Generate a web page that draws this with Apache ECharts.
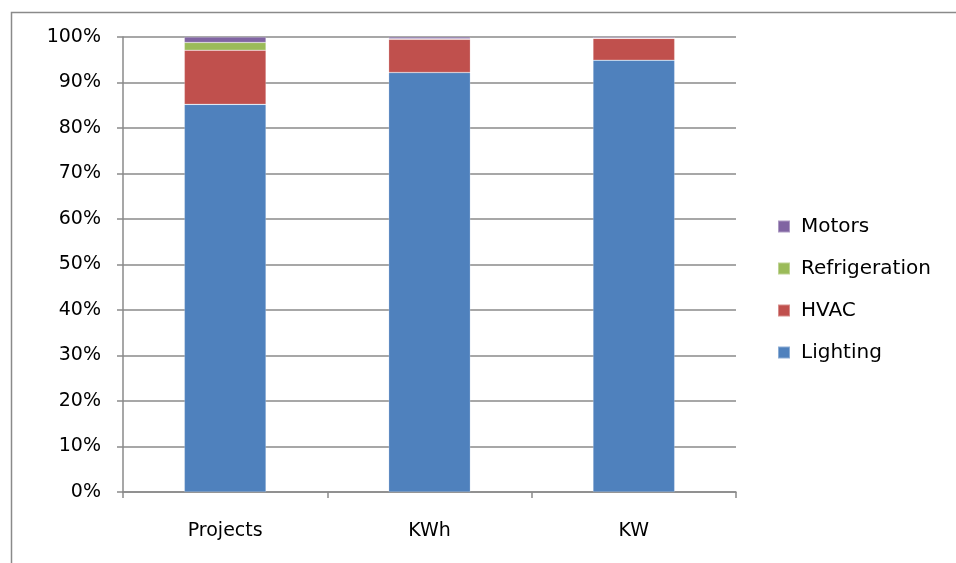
<!DOCTYPE html>
<html><head><meta charset="utf-8">
<script src="https://cdn.jsdelivr.net/npm/echarts@6/dist/echarts.min.js"></script>
<style>html,body{margin:0;padding:0;background:#fff}#c{width:956px;height:563px}</style>
</head><body><div id="c"></div>
<script>
const categories = ['Projects', 'KWh', 'KW'];
const lighting = [85.2, 92.2, 94.9];
const hvac = [11.9, 7.3, 4.8];
const refrigeration = [1.7, 0.1, 0.05];
const motors = [1.2, 0.4, 0.25];
const yTicks = [0, 10, 20, 30, 40, 50, 60, 70, 80, 90, 100];

const chart = echarts.init(document.getElementById('c'));
const font = '"DejaVu Sans", "Open Sans", sans-serif';
function mk(name, data, color) {
  return { name, type: 'bar', stack: 't', data, barWidth: '40%',
    itemStyle: { color, borderColor: 'rgba(255,255,255,0.35)', borderWidth: 0.6 } };
}
chart.setOption({
  animation: false,
  graphic: [{ type: 'rect', shape: { x: 11.5, y: 12.5, width: 1000, height: 600 },
    style: { fill: 'none', stroke: '#8a8a8a', lineWidth: 1.5 }, z: -1 }],
  grid: { left: 123, right: 220, top: 37, bottom: 71, containLabel: false },
  legend: {
    orient: 'vertical', left: 777, top: 216, itemGap: 21, padding: 0,
    itemWidth: 12, itemHeight: 12, icon: 'rect',
    data: ['Motors', 'Refrigeration', 'HVAC', 'Lighting'],
    textStyle: { fontFamily: font, fontSize: 20, lineHeight: 21, color: '#000', padding: [0, 0, 0, 6] }
  },
  xAxis: {
    type: 'category', data: categories,
    axisLine: { lineStyle: { color: '#8a8a8a', width: 1.5 } },
    axisTick: { show: true, length: 6, lineStyle: { color: '#8a8a8a', width: 1.5 } },
    axisLabel: { fontFamily: font, fontSize: 19, color: '#000', margin: 30 }
  },
  yAxis: {
    type: 'value', min: 0, max: 100, interval: 10,
    axisLine: { show: true, lineStyle: { color: '#8a8a8a', width: 1.5 } },
    axisTick: { show: true, length: 6, lineStyle: { color: '#8a8a8a', width: 1.5 } },
    splitLine: { lineStyle: { color: '#8a8a8a', width: 1.5 } },
    axisLabel: { fontFamily: font, fontSize: 19, color: '#000', margin: 22,
      formatter: v => yTicks.includes(v) ? v + '%' : '' }
  },
  series: [
    mk('Lighting', lighting, '#4F81BD'),
    mk('HVAC', hvac, '#C0504D'),
    mk('Refrigeration', refrigeration, '#9BBB59'),
    mk('Motors', motors, '#8064A2')
  ]
});
</script></body></html>
